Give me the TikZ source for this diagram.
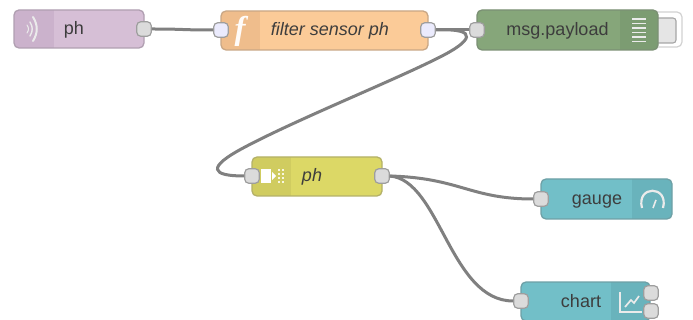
\documentclass[tikz,border=0pt]{standalone}
\usepackage{fontspec}
\setmainfont{Liberation Sans}
\newfontfamily\iconserif{Liberation Serif}
\definecolor{cpink}{HTML}{D6BFD6}
\definecolor{cpinkd}{HTML}{CBB2CC}
\definecolor{corange}{HTML}{FBCB98}
\definecolor{corangd}{HTML}{EFBD8C}
\definecolor{cgreen}{HTML}{86A67A}
\definecolor{cgreend}{HTML}{7C9C72}
\definecolor{cyellow}{HTML}{DCD866}
\definecolor{cyellowd}{HTML}{D0CC60}
\definecolor{cteal}{HTML}{72BFC8}
\definecolor{cteald}{HTML}{69B3BC}
\tikzset{
  x=1pt,y=-1pt,
  body/.style={draw=#1,line width=1.3pt,rounded corners=5pt,inner sep=0pt},
  port/.style={draw=black!38,fill=black!14,line width=1.2pt,rounded corners=4pt,minimum width=14.5pt,minimum height=14.5pt,inner sep=0pt},
  portb/.style={port,fill=black!10!blue!8!white},
  wire/.style={draw=black!50,line width=3pt},
  lab/.style={font=\fontsize{18}{20}\selectfont,text=black!76,inner sep=0pt,anchor=base},
  ilab/.style={lab,font=\fontsize{18}{20}\selectfont\itshape},
  ico/.style={draw=white!92!black,line width=1.5pt},
}
\newcommand{\flownode}[8]{% name, x1,y1,x2,y2, divider x, fill, dark
  \path[fill=#7,rounded corners=5pt] (#2,#3) rectangle (#4,#5);
  \begin{scope}
    \clip[rounded corners=5pt] (#2,#3) rectangle (#4,#5);
    \ifnum#6<\numexpr(#2+#4)/2\relax
      \fill[#8] (#2,#3) rectangle (#6,#5);
    \else
      \fill[#8] (#6,#3) rectangle (#4,#5);
    \fi
  \end{scope}
  \node[body=#8!80!black!85!white,minimum width=#4pt-#2pt,minimum height=#5pt-#3pt] (#1) at ({(#2+#4)/2},{(#3+#5)/2}) {};
}
\begin{document}
\begin{tikzpicture}
\useasboundingbox (0,0) rectangle (693,320);
\fill[white] (0,0) rectangle (693,320);

% button behind debug node
\draw[draw=black!18,line width=1.2pt,fill=white,rounded corners=5pt] (650,12) rectangle (682,47);
\draw[draw=black!35,line width=1.1pt,fill=black!10,rounded corners=3pt] (650,18) rectangle (676,43);

\flownode{inj}{14}{10}{144}{48}{54}{cpink}{cpinkd}
\flownode{fn}{221}{11}{428}{50}{260}{corange}{corangd}
\flownode{dbg}{477}{10}{658}{50}{620}{cgreen}{cgreend}
\flownode{tpl}{252}{157}{382}{196}{291}{cyellow}{cyellowd}
\flownode{gau}{541}{179}{672}{219}{632}{cteal}{cteald}
\flownode{cha}{521}{282}{650}{321}{611}{cteal}{cteald}

% ports
\node[port] (injo) at (144,29) {};
\node[portb] (fni) at (221,30) {};
\node[portb] (fno) at (428,30) {};
\node[port] (dbgi) at (477,30) {};
\node[port] (tpli) at (252,176) {};
\node[port] (tplo) at (382,176) {};
\node[port] (gaui) at (541,199) {};
\node[port] (chai) at (521,301) {};
\node[port] (chao) at (651,293) {};
\node[port] (chap) at (651,311) {};

% wires
\draw[wire] (injo.east) .. controls (185,29) and (180,30) .. (fni.west);
\draw[wire] (fno.east) .. controls (450,30) and (455,30) .. (dbgi.west);
\draw[wire] (fno.east) .. controls (482,28) and (470,42) .. (440,57)
   .. controls (395,80) and (300,118) .. (245,147)
   .. controls (205,168) and (212,176) .. (tpli.west);
\draw[wire] (tplo.east) .. controls (460,178) and (470,199) .. (gaui.west);
\draw[wire] (tplo.east) .. controls (440,180) and (450,301) .. (chai.west);

% labels
\node[lab] (t1) at (74,35) {ph};
\node[ilab] (t2) at (330,36) {filter sensor ph};
\node[lab] (t3) at (557.5,36) {msg.payload};
\node[ilab] (t4) at (312,182) {ph};
\node[lab] (t5) at (597,205) {gauge};
\node[lab] (t6) at (581,307) {chart};

% inject icon
\draw[ico,line width=2pt,line cap=round] (33,17) .. controls (38,25) and (38,33) .. (33,41);
\draw[ico,line width=1.4pt,line cap=round] (30,22) .. controls (33,27) and (33,31) .. (30,36);
\draw[ico,line width=1pt,line cap=round] (27,25) .. controls (29,28) and (29,30) .. (27,33);
% function icon
\node[inner sep=0pt,text=white!95!corange,font=\fontsize{33}{33}\selectfont\iconserif\bfseries\itshape] (fi) at (240,31) {f};
% debug icon
\foreach \yy in {19,23.5,28,32.5,37,41.5}{\draw[ico,line width=1.7pt] (632,\yy) -- (646,\yy);}
% template icon
\fill[white] (261,169) rectangle (271,183);
\fill[white] (272,172) -- (276,176) -- (272,180) -- cycle;
\foreach \xx in {279,283}{\foreach \yy in {170,174,178,182}{\fill[white!80!cyellow] (\xx-1.3,\yy-1.3) rectangle (\xx+1.3,\yy+1.3);}}
% gauge icon
\draw[ico,line width=2.2pt] (642,208) .. controls (636,185) and (669,185) .. (663,208);
\draw[ico,line width=1.6pt] (653,208) -- (656,200);
% chart icon
\draw[ico,line width=1.2pt] (620,292) -- (620,312) -- (642,312);
\draw[ico,line width=1.7pt] (625,307) -- (631,300) -- (634,303) -- (639,296);
\end{tikzpicture}
\end{document}
